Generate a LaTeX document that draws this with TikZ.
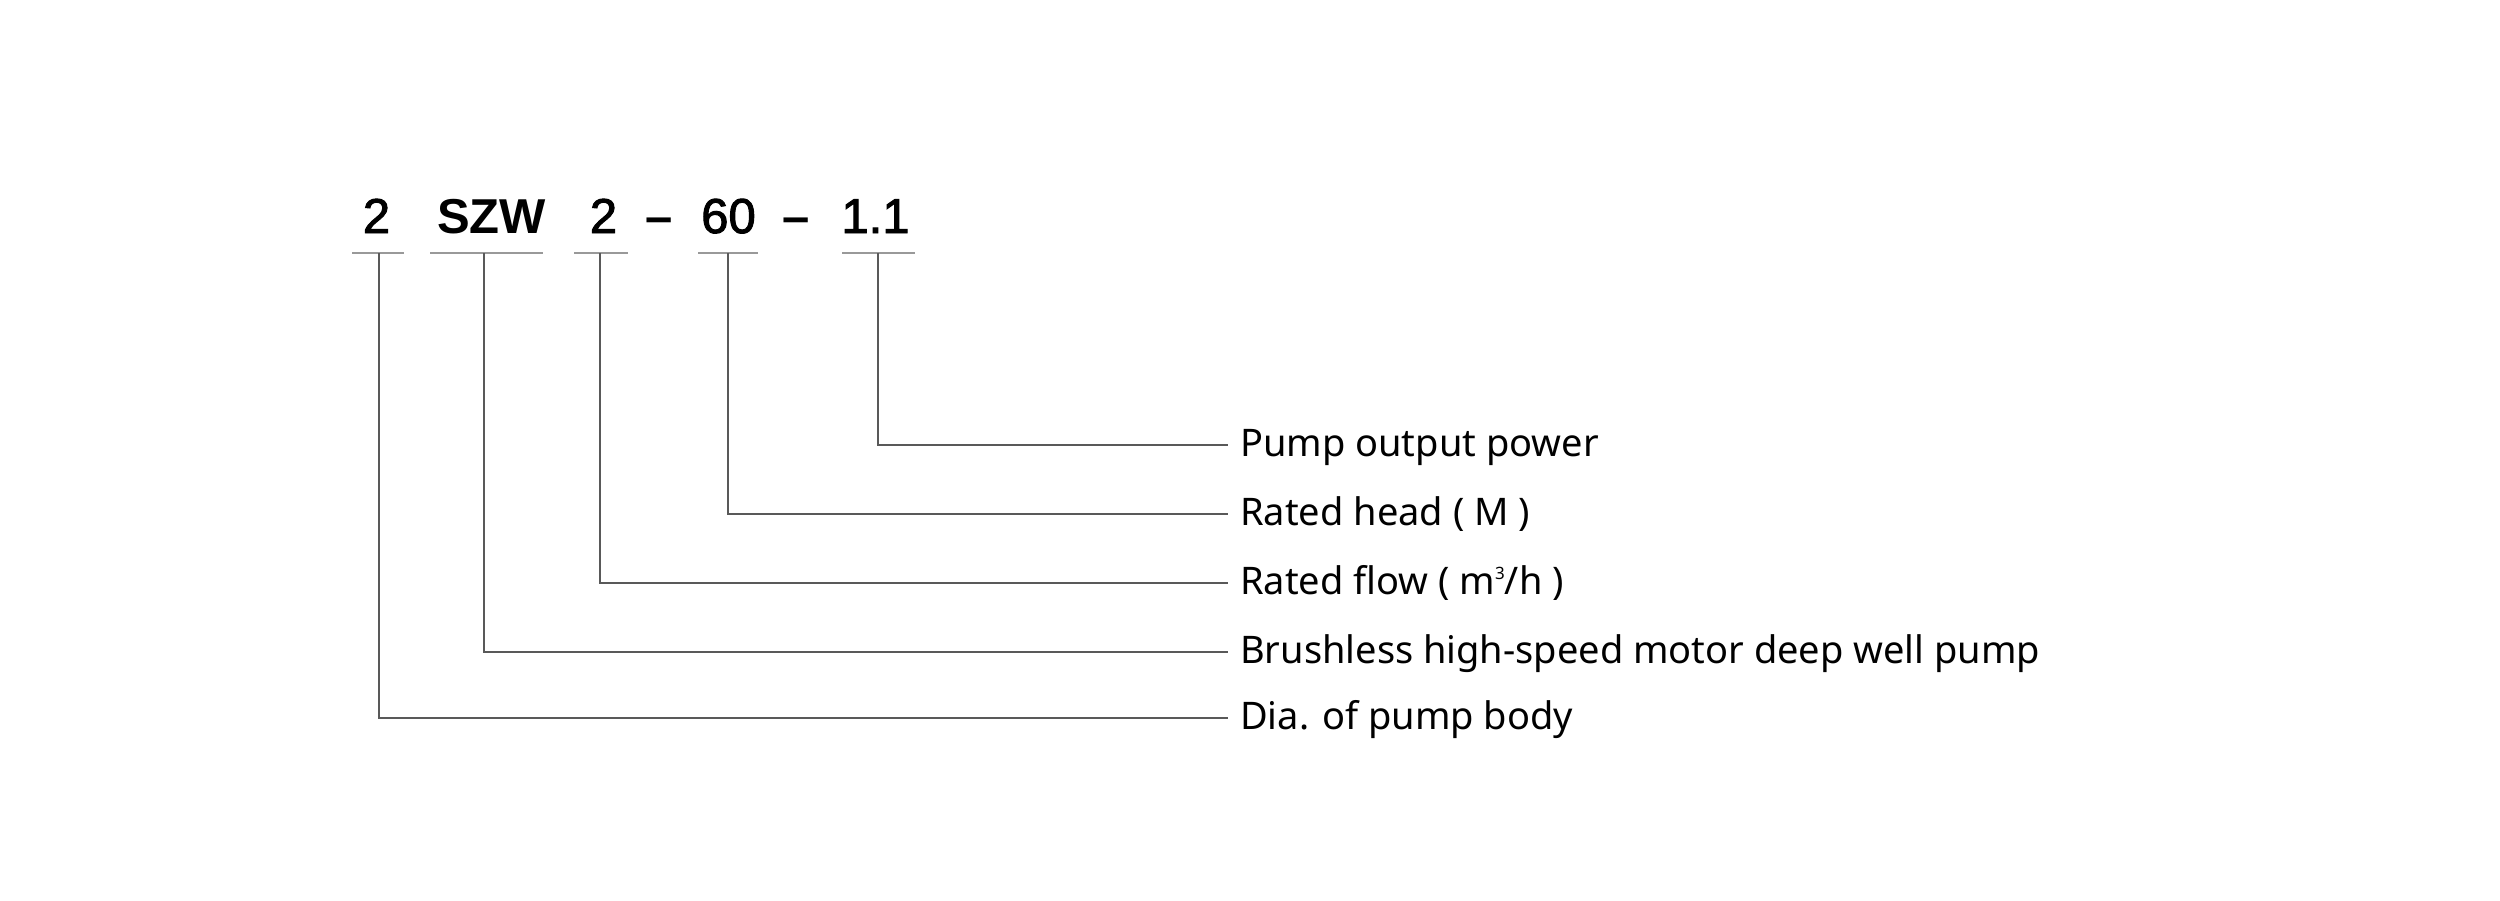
\documentclass[tikz,border=0pt]{standalone}
\usepackage{fontspec}
\setmainfont{Noto Sans}
\newfontfamily\codefont[FakeBold=2]{Liberation Sans}
\newfontfamily\codefontb{Liberation Sans}
\newcommand{\supthree}{\raisebox{15pt}{\fontsize{17}{17}\selectfont 3}}
\begin{document}
\begin{tikzpicture}[x=1pt,y=1pt,
  code/.style={font=\codefont\fontsize{49}{50}\selectfont, inner sep=0pt, anchor=base, text=black},
  codebold/.style={code, font=\codefontb\bfseries\fontsize{49}{50}\selectfont},
  lbl/.style={font=\fontsize{38}{40}\selectfont, inner sep=0pt, anchor=base west, text=black},
  uline/.style={draw=black!40, line width=1.8pt},
  conn/.style={draw=black!65, line width=1.6pt},
]
\useasboundingbox[fill=white] (0,0) rectangle (2500,-900);

% model code
\node[code] (c1) at (376.5,-233) {2};
\node[codebold] (c2) at (491.5,-233) {SZW};
\node[code] (c3) at (603.5,-233) {2};
\node[codebold] (d1) at (659,-233) {–};
\node[code] (c4) at (728.5,-233) {60};
\node[codebold] (d2) at (796.5,-233) {–};
\node[code] (c5) at (875.5,-233) {1.1};

% underlines
\draw[uline] (352,-253) -- (404,-253);
\draw[uline] (430,-253) -- (543,-253);
\draw[uline] (574,-253) -- (628,-253);
\draw[uline] (698,-253) -- (758,-253);
\draw[uline] (842,-253) -- (915,-253);

\coordinate (u1) at (379,-253);
\coordinate (u2) at (484,-253);
\coordinate (u3) at (600,-253);
\coordinate (u4) at (728,-253);
\coordinate (u5) at (878,-253);

% labels
\node[lbl] (l1) at (1240,-456) {Pump output power};
\node[lbl] (l2) at (1240,-525) {Rated head ( M )};
\node[lbl] (l3) at (1240,-594) {Rated flow ( m\supthree/h )};
\node[lbl] (l4) at (1240,-663) {Brushless high-speed motor deep well pump};
\node[lbl] (l5) at (1240,-729) {Dia. of pump body};

\coordinate (e1) at (1228,-445);
\coordinate (e2) at (1228,-514);
\coordinate (e3) at (1228,-583);
\coordinate (e4) at (1228,-652);
\coordinate (e5) at (1228,-718);

% connectors
\draw[conn] (u5) |- (e1);
\draw[conn] (u4) |- (e2);
\draw[conn] (u3) |- (e3);
\draw[conn] (u2) |- (e4);
\draw[conn] (u1) |- (e5);
\end{tikzpicture}
\end{document}
